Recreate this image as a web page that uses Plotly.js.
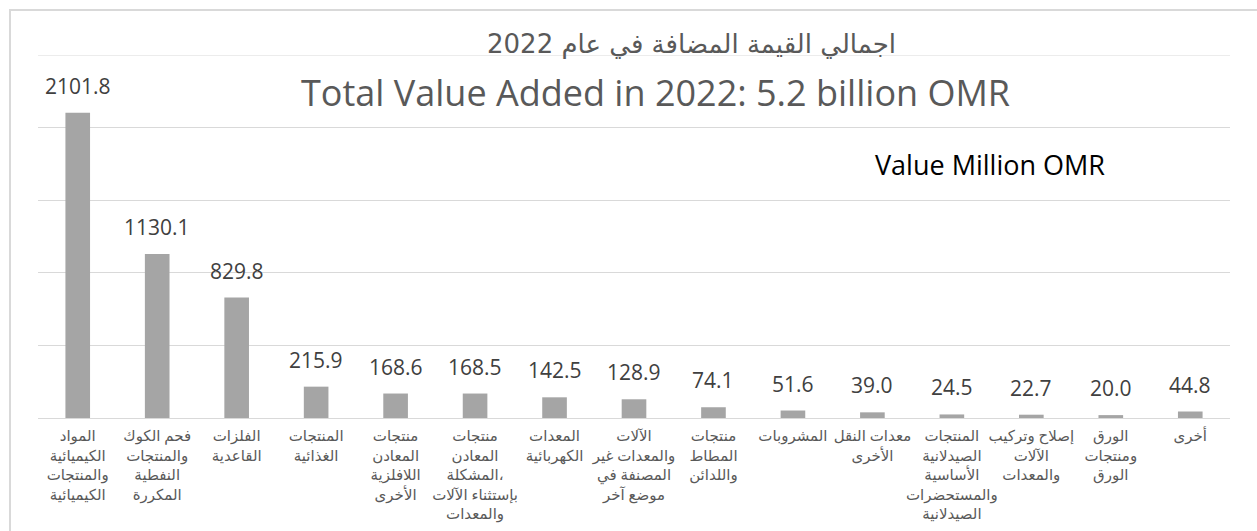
<!DOCTYPE html>
<html>
<head>
<meta charset="utf-8">
<script src="https://cdn.plot.ly/plotly-3.0.1.min.js"></script>
<style>
  html, body { margin: 0; padding: 0; background: #ffffff; overflow: hidden; }
  #wrap { position: relative; width: 1257px; height: 531px; }
  #chart { position: absolute; left: 0; top: 0; width: 1257px; height: 531px; }
  #frame { position: absolute; left: 9px; top: 9px; width: 1400px; height: 700px;
           border-top: 2px solid #d9d9d9; border-left: 2px solid #d9d9d9; pointer-events: none; }
</style>
</head>
<body>
<div id="wrap">
  <div id="chart"></div>
  <div id="frame"></div>
</div>
<script>
// Categories (Arabic, wrapped as in the reference)
const categories = [
  'المواد<br>الكيميائية<br>والمنتجات<br>الكيميائية',
  'فحم الكوك<br>والمنتجات<br>النفطية<br>المكررة',
  'الفلزات<br>القاعدية',
  'المنتجات<br>الغذائية',
  'منتجات<br>المعادن<br>اللافلزية<br>الأخرى',
  'منتجات<br>المعادن<br>المشكلة،<br>بإستثناء الآلات<br>والمعدات',
  'المعدات<br>الكهربائية',
  'الآلات<br>والمعدات غير<br>المصنفة في<br>موضع آخر',
  'منتجات<br>المطاط<br>واللدائن',
  'المشروبات',
  'معدات النقل<br>الأخرى',
  'المنتجات<br>الصيدلانية<br>الأساسية<br>والمستحضرات<br>الصيدلانية',
  'إصلاح وتركيب<br>الآلات<br>والمعدات',
  'الورق<br>ومنتجات<br>الورق',
  'أخرى'
];
// Value added, million OMR
const values = [2101.8, 1130.1, 829.8, 215.9, 168.6, 168.5, 142.5, 128.9, 74.1, 51.6, 39.0, 24.5, 22.7, 20.0, 44.8];
const titleArabic = 'اجمالي القيمة المضافة في عام 2022';
const titleEnglish = 'Total Value Added in 2022: 5.2 billion OMR';
const unitLabel = 'Value Million OMR';
const yMax = 2500;

const keys = categories.map((c, i) => 'c' + i);

const trace = {
  type: 'bar',
  x: keys,
  y: values,
  marker: { color: '#a5a5a5' },
  hoverinfo: 'skip'
};

const valueLabels = values.map((v, i) => ({
  x: keys[i], y: v, xref: 'x', yref: 'y',
  text: v.toFixed(1), showarrow: false,
  xanchor: 'center', yanchor: 'bottom', yshift: 11,
  font: { family: 'Open Sans, sans-serif', size: 21, color: '#404040' }
}));

const layout = {
  width: 1257, height: 531,
  margin: { l: 38, r: 27, t: 55, b: 113 },
  paper_bgcolor: 'rgba(0,0,0,0)',
  plot_bgcolor: 'rgba(0,0,0,0)',
  showlegend: false,
  bargap: 0.69,
  xaxis: {
    type: 'category',
    tickvals: keys,
    ticktext: categories,
    showgrid: false,
    showline: true, linecolor: '#d9d9d9', linewidth: 1,
    ticks: '', zeroline: false,
    tickfont: { family: 'Noto Sans, DejaVu Sans, sans-serif', size: 15, color: '#595959' },
    tickangle: 0,
    ticklabelstandoff: 4,
    fixedrange: true
  },
  yaxis: {
    range: [0, yMax],
    dtick: 500,
    showticklabels: false,
    showgrid: true, gridcolor: '#d9d9d9', gridwidth: 1,
    zeroline: false, ticks: '',
    fixedrange: true
  },
  shapes: [
    { type: 'line', xref: 'paper', yref: 'y', x0: 0, x1: 1, y0: yMax, y1: yMax,
      line: { color: '#d9d9d9', width: 1 } }
  ],
  annotations: valueLabels.concat([
    { xref: 'paper', yref: 'paper', x: 0.548, y: 1.0, xanchor: 'center', yanchor: 'bottom', yshift: -6,
      text: titleArabic, showarrow: false,
      font: { family: 'DejaVu Sans, Noto Sans, sans-serif', size: 26, color: '#595959' } },
    { xref: 'paper', yref: 'paper', x: 0.518, y: 0.896, xanchor: 'center', yanchor: 'middle',
      text: titleEnglish, showarrow: false,
      font: { family: 'Open Sans, sans-serif', size: 36, color: '#595959' } },
    { xref: 'paper', yref: 'paper', x: 0.799, y: 0.697, xanchor: 'center', yanchor: 'middle',
      text: unitLabel, showarrow: false,
      font: { family: 'Open Sans, sans-serif', size: 27, color: '#000000' } }
  ])
};

Plotly.newPlot('chart', [trace], layout, { displayModeBar: false, staticPlot: true });
</script>
</body>
</html>
